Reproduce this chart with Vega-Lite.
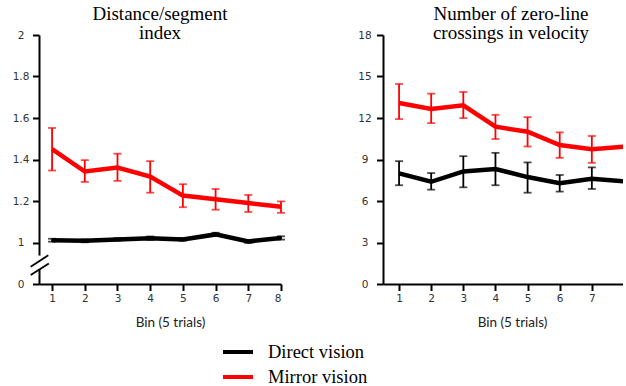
{
  "$schema": "https://vega.github.io/schema/vega-lite/v6.json",
  "background": "white",
  "padding": {"left": 12, "top": 5, "right": 0, "bottom": 0},
  "spacing": 102,
  "bounds": "flush",
  "datasets": {
    "dist": [
      {"bin": 1, "cond": "Direct vision", "mean": 1.011, "lo": 1.004, "hi": 1.018},
      {"bin": 2, "cond": "Direct vision", "mean": 1.008, "lo": 1.001, "hi": 1.015},
      {"bin": 3, "cond": "Direct vision", "mean": 1.015, "lo": 1.009, "hi": 1.021},
      {"bin": 4, "cond": "Direct vision", "mean": 1.021, "lo": 1.013, "hi": 1.029},
      {"bin": 5, "cond": "Direct vision", "mean": 1.015, "lo": 1.009, "hi": 1.021},
      {"bin": 6, "cond": "Direct vision", "mean": 1.039, "lo": 1.031, "hi": 1.047},
      {"bin": 7, "cond": "Direct vision", "mean": 1.005, "lo": 0.998, "hi": 1.012},
      {"bin": 8, "cond": "Direct vision", "mean": 1.022, "lo": 1.014, "hi": 1.030},
      {"bin": 1, "cond": "Mirror vision", "mean": 1.45, "lo": 1.347, "hi": 1.552},
      {"bin": 2, "cond": "Mirror vision", "mean": 1.342, "lo": 1.292, "hi": 1.397},
      {"bin": 3, "cond": "Mirror vision", "mean": 1.361, "lo": 1.297, "hi": 1.428},
      {"bin": 4, "cond": "Mirror vision", "mean": 1.318, "lo": 1.24, "hi": 1.392},
      {"bin": 5, "cond": "Mirror vision", "mean": 1.226, "lo": 1.17, "hi": 1.281},
      {"bin": 6, "cond": "Mirror vision", "mean": 1.208, "lo": 1.158, "hi": 1.258},
      {"bin": 7, "cond": "Mirror vision", "mean": 1.19, "lo": 1.147, "hi": 1.229},
      {"bin": 8, "cond": "Mirror vision", "mean": 1.172, "lo": 1.143, "hi": 1.198}
    ],
    "cross": [
      {"bin": 1, "cond": "Direct vision", "mean": 8.0, "lo": 7.14, "hi": 8.88},
      {"bin": 2, "cond": "Direct vision", "mean": 7.39, "lo": 6.82, "hi": 8.02},
      {"bin": 3, "cond": "Direct vision", "mean": 8.14, "lo": 6.99, "hi": 9.24},
      {"bin": 4, "cond": "Direct vision", "mean": 8.31, "lo": 7.14, "hi": 9.48},
      {"bin": 5, "cond": "Direct vision", "mean": 7.73, "lo": 6.6, "hi": 8.79},
      {"bin": 6, "cond": "Direct vision", "mean": 7.28, "lo": 6.68, "hi": 7.88},
      {"bin": 7, "cond": "Direct vision", "mean": 7.61, "lo": 6.87, "hi": 8.43},
      {"bin": 8, "cond": "Direct vision", "mean": 7.42, "lo": 6.7, "hi": 8.1},
      {"bin": 1, "cond": "Mirror vision", "mean": 13.09, "lo": 11.92, "hi": 14.46},
      {"bin": 2, "cond": "Mirror vision", "mean": 12.66, "lo": 11.63, "hi": 13.76},
      {"bin": 3, "cond": "Mirror vision", "mean": 12.92, "lo": 11.99, "hi": 13.88},
      {"bin": 4, "cond": "Mirror vision", "mean": 11.37, "lo": 10.48, "hi": 12.23},
      {"bin": 5, "cond": "Mirror vision", "mean": 11.01, "lo": 9.94, "hi": 12.06},
      {"bin": 6, "cond": "Mirror vision", "mean": 10.05, "lo": 9.12, "hi": 10.96},
      {"bin": 7, "cond": "Mirror vision", "mean": 9.74, "lo": 8.76, "hi": 10.7},
      {"bin": 8, "cond": "Mirror vision", "mean": 9.93, "lo": 9.0, "hi": 10.9}
    ],
    "gap": [{"bx": 0.6, "ylo": 0.872, "yhi": 0.937}],
    "slash": [
      {"x1": 0.346, "y1": 0.883, "x2": 0.884, "y2": 0.939},
      {"x1": 0.346, "y1": 0.843, "x2": 0.900, "y2": 0.899}
    ]
  },
  "hconcat": [
    {
      "width": 242,
      "height": 249,
      "title": {"text": ["Distance/segment", "index"]},
      "layer": [
        {
          "data": {"name": "dist"},
          "mark": {"type": "line", "strokeWidth": 4.5},
          "encoding": {
            "x": {"field": "bin", "type": "quantitative", "scale": {"domain": [0.6, 8], "nice": false, "zero": false},
                  "axis": {"values": [1, 2, 3, 4, 5, 6, 7, 8], "title": "Bin (5 trials)", "titleX": 131, "labelOverlap": false, "labelBound": false, "tickCount": 8}},
            "y": {"field": "mean", "type": "quantitative", "scale": {"domain": [0.8, 2], "nice": false, "zero": false},
                  "axis": {"values": [0.8, 1, 1.2, 1.4, 1.6, 1.8, 2], "title": null,
                           "labelExpr": "datum.value < 0.9 ? '0' : format(datum.value, '~g')"}},
            "color": {"field": "cond", "type": "nominal",
                      "scale": {"domain": ["Direct vision", "Mirror vision"], "range": ["#000000", "#ff0000"]},
                      "legend": {"title": null, "orient": "none", "legendX": 187, "legendY": 305}}
          }
        },
        {
          "data": {"name": "dist"},
          "mark": {"type": "errorbar", "ticks": true, "size": 8, "thickness": 1.8},
          "encoding": {
            "x": {"field": "bin", "type": "quantitative"},
            "y": {"field": "lo", "type": "quantitative"},
            "y2": {"field": "hi"},
            "color": {"field": "cond", "type": "nominal", "legend": null}
          }
        },
        {
          "data": {"name": "gap"},
          "mark": {"type": "rule", "color": "white", "strokeWidth": 5},
          "encoding": {
            "x": {"field": "bx", "type": "quantitative"},
            "y": {"field": "ylo", "type": "quantitative"},
            "y2": {"field": "yhi"}
          }
        },
        {
          "data": {"name": "slash"},
          "mark": {"type": "rule", "color": "black", "strokeWidth": 1.8},
          "encoding": {
            "x": {"field": "x1", "type": "quantitative"},
            "x2": {"field": "x2"},
            "y": {"field": "y1", "type": "quantitative"},
            "y2": {"field": "y2"}
          }
        }
      ]
    },
    {
      "width": 240,
      "height": 249,
      "title": {"text": ["Number of zero-line", "crossings in velocity"], "dx": 8},
      "data": {"name": "cross"},
      "layer": [
        {
          "mark": {"type": "line", "strokeWidth": 4.5, "clip": true},
          "encoding": {
            "x": {"field": "bin", "type": "quantitative", "scale": {"domain": [0.5, 7.97], "nice": false, "zero": false},
                  "axis": {"values": [1, 2, 3, 4, 5, 6, 7], "title": "Bin (5 trials)", "titleX": 129, "labelOverlap": false, "labelBound": false, "tickCount": 8}},
            "y": {"field": "mean", "type": "quantitative", "scale": {"domain": [0, 18], "nice": false},
                  "axis": {"values": [0, 3, 6, 9, 12, 15, 18], "title": null}},
            "color": {"field": "cond", "type": "nominal", "legend": null}
          }
        },
        {
          "transform": [{"filter": "datum.bin <= 7"}],
          "mark": {"type": "errorbar", "ticks": true, "size": 8, "thickness": 1.8},
          "encoding": {
            "x": {"field": "bin", "type": "quantitative"},
            "y": {"field": "lo", "type": "quantitative"},
            "y2": {"field": "hi"},
            "color": {"field": "cond", "type": "nominal", "legend": null}
          }
        }
      ]
    }
  ],
  "config": {
    "view": {"stroke": null},
    "title": {"font": "Liberation Serif", "fontSize": 19, "fontWeight": "normal", "lineHeight": 19, "offset": -13, "color": "#000000", "anchor": "middle"},
    "axis": {
      "grid": false,
      "domainColor": "#000000",
      "domainWidth": 2,
      "tickColor": "#000000",
      "tickWidth": 2,
      "tickSize": 6.5,
      "labelColor": "#333333",
      "labelFont": "DejaVu Sans",
      "labelFontSize": 10.5,
      "labelOverlap": false,
      "titleFont": "Lato",
      "titleFontSize": 13.5,
      "titleFontWeight": "normal",
      "titleColor": "#222222"
    },
    "axisX": {"labelAngle": 0, "labelPadding": 3, "titlePadding": 11},
    "axisY": {"labelPadding": 12, "labelAlign": "center"},
    "legend": {
      "symbolType": "M-1.5,0H1.5",
      "symbolSize": 400,
      "symbolStrokeWidth": 4,
      "labelFont": "Liberation Serif",
      "labelFontSize": 18.5,
      "labelColor": "#000000",
      "labelOffset": 18,
      "rowPadding": 3,
      "labelLimit": 300
    }
  }
}
